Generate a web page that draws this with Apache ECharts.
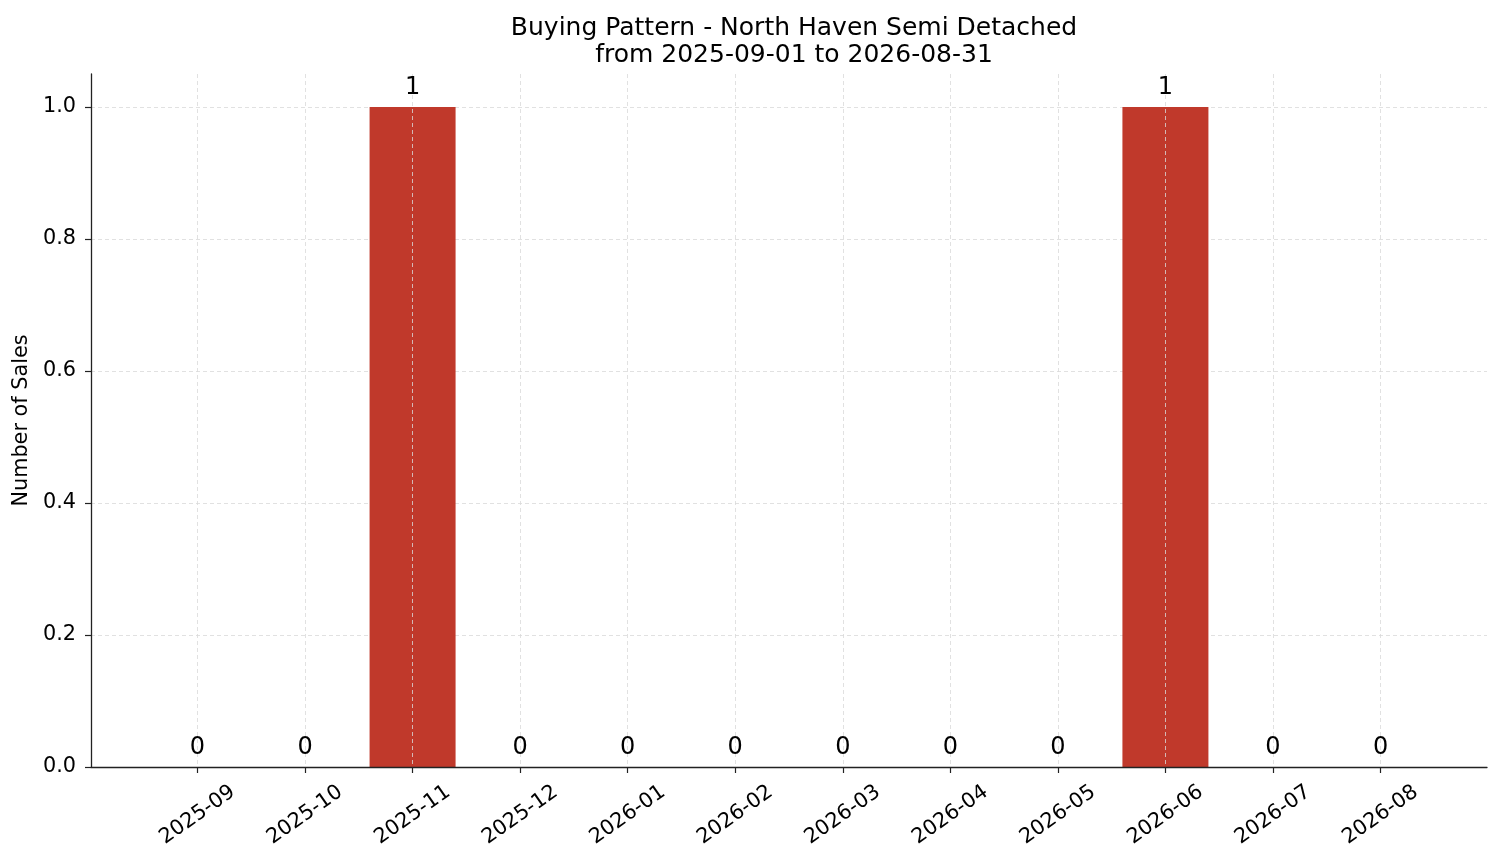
<!DOCTYPE html>
<html lang="en">
<head>
    <meta charset="UTF-8">
    <title>Buying Pattern</title>
    <script src="https://cdn.jsdelivr.net/npm/echarts@6/dist/echarts.min.js"></script>
    <style>
        html, body { margin: 0; padding: 0; background: #fff; }
    </style>
</head>
<body>
    <div id="main" style="width: 1501px; height: 863px;"></div>
    <script type="text/javascript">
        // data
        var months = ['2025-09', '2025-10', '2025-11', '2025-12', '2026-01', '2026-02',
            '2026-03', '2026-04', '2026-05', '2026-06', '2026-07', '2026-08'];
        var sales = [0, 0, 1, 0, 0, 0, 0, 0, 0, 1, 0, 0];
        var yTicks = [0, 0.2, 0.4, 0.6, 0.8, 1.0];

        var monthIdx = months.map(function (m, i) { return i; });
        var barData = sales.map(function (v, i) { return [i, v]; });

        var font = 'DejaVu Sans';
        var gridLine = { show: true, lineStyle: { color: '#d9d9d9', type: [4, 3], width: 0.8 } };

        var myChart = echarts.init(document.getElementById('main'));
        var option = {
            backgroundColor: '#fff',
            animation: false,
            title: {
                text: 'Buying Pattern - North Haven Semi Detached\nfrom 2025-09-01 to 2026-08-31',
                left: 789,
                textAlign: 'center',
                top: 10,
                textStyle: { fontFamily: font, fontSize: 25, fontWeight: 'normal', color: '#000', lineHeight: 27 }
            },
            grid: { left: 91, right: 14, top: 74, bottom: 96 },
            xAxis: {
                type: 'value',
                min: -0.99,
                max: 11.99,
                z: 3,
                axisLine: { show: true, onZero: false, lineStyle: { color: '#222', width: 1.3 } },
                axisTick: { show: true, customValues: monthIdx, length: 6, lineStyle: { color: '#222', width: 1.2 } },
                axisLabel: {
                    customValues: monthIdx,
                    formatter: function (v) { return months[Math.round(v)] || ''; },
                    rotate: 35,
                    align: 'center',
                    verticalAlign: 'middle',
                    margin: 48,
                    fontFamily: font,
                    fontSize: 20.8,
                    color: '#000'
                },
                splitLine: gridLine
            },
            yAxis: {
                type: 'value',
                min: 0,
                max: 1.05,
                name: 'Number of Sales',
                nameLocation: 'middle',
                nameGap: 56,
                nameTextStyle: { fontFamily: font, fontSize: 20.8, color: '#000' },
                axisLine: { show: true, onZero: false, lineStyle: { color: '#222', width: 1.3 } },
                axisTick: { show: true, customValues: yTicks, length: 6, lineStyle: { color: '#222', width: 1.2 } },
                axisLabel: {
                    customValues: yTicks,
                    formatter: function (v) { return v.toFixed(1); },
                    margin: 15,
                    fontFamily: font,
                    fontSize: 20.8,
                    color: '#000'
                },
                splitLine: gridLine
            },
            series: [
                {
                    name: 'Sales',
                    type: 'bar',
                    data: barData,
                    barWidth: 86,
                    itemStyle: { color: '#c0392b' }
                },
                {
                    // label-only layer, drawn above the grid lines
                    name: 'Sales labels',
                    type: 'bar',
                    data: barData,
                    barWidth: 86,
                    barGap: '-100%',
                    z: 5,
                    silent: true,
                    itemStyle: { color: 'rgba(0,0,0,0)' },
                    label: {
                        show: true,
                        position: 'top',
                        distance: 7,
                        formatter: function (p) { return String(p.value[1]); },
                        fontFamily: font,
                        fontSize: 24,
                        color: '#000'
                    }
                }
            ]
        };
        myChart.setOption(option);
    </script>
</body>
</html>
